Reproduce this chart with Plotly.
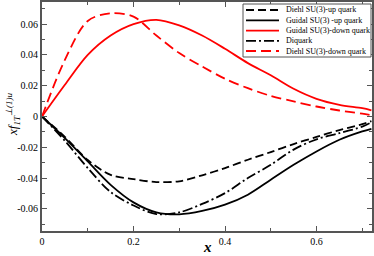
import plotly.graph_objects as go

x_vals = [0, 0.05, 0.1, 0.15, 0.2, 0.25, 0.3, 0.35, 0.4, 0.45, 0.5, 0.55, 0.6, 0.65, 0.7, 0.72]

diehl_up    = [0, -0.0132, -0.0283, -0.0379, -0.0407, -0.0426, -0.0421, -0.0382, -0.0335, -0.0281, -0.0231, -0.0179, -0.0133, -0.0088, -0.0050, -0.0030]
guidal_up   = [0, -0.0140, -0.0292, -0.0444, -0.0558, -0.0623, -0.0636, -0.0614, -0.0573, -0.0508, -0.0411, -0.0314, -0.0227, -0.0151, -0.0097, -0.0080]
guidal_down = [0, 0.0206, 0.0400, 0.0526, 0.0600, 0.0628, 0.0592, 0.0526, 0.0440, 0.0347, 0.0268, 0.0180, 0.0115, 0.0076, 0.0054, 0.0040]
diquark     = [0, -0.0158, -0.0335, -0.0491, -0.0578, -0.0634, -0.0623, -0.0568, -0.0498, -0.0400, -0.0314, -0.0215, -0.0148, -0.0108, -0.0066, -0.0038]
diehl_down  = [0, 0.0368, 0.0621, 0.0671, 0.0649, 0.0526, 0.0412, 0.0325, 0.0245, 0.0184, 0.0134, 0.0098, 0.0065, 0.0039, 0.0018, 0.0008]

x_ticks = [0, 0.2, 0.4, 0.6]
x_tick_labels = ["0", "0.2", "0.4", "0.6"]
y_ticks = [-0.06, -0.04, -0.02, 0, 0.02, 0.04, 0.06]
y_tick_labels = ["-0.06", "-0.04", "-0.02", "0", "0.02", "0.04", "0.06"]

series_names = ["Diehl SU(3)-up quark", "Guidal SU(3) -up quark", "Guidal SU(3)-down quark",
                "Diquark", "Diehl SU(3)-down quark"]
series_values = [diehl_up, guidal_up, guidal_down, diquark, diehl_down]
series_colors = ["black", "black", "red", "black", "red"]
series_dashes = ["8px,4px", "solid", "solid", "10px,3px,2px,3px", "10px,5px"]

W, H = 374, 256
L, R, T, B = 42, 2, 2, 25
PW, PH = W - L - R, H - T - B
SERIF = "Liberation Serif"


def px_x(p):
    return (p - L) / PW


def px_y(p):
    return (H - B - p) / PH


fig = go.Figure()
for name, ys, col, dash in zip(series_names, series_values, series_colors, series_dashes):
    fig.add_trace(go.Scatter(
        x=x_vals, y=ys, mode="lines", name=name, showlegend=False, hoverinfo="skip",
        line=dict(color=col, width=1.8, dash=dash, shape="spline", smoothing=0.9),
    ))

axis_common = dict(
    showline=True, linecolor="#555555", linewidth=2, mirror="ticks",
    ticks="inside", ticklen=5, tickwidth=1, tickcolor="#555555",
    showgrid=False, zeroline=False, automargin=False,
    tickfont=dict(family=SERIF, size=10, color="black"),
)

fig.update_xaxes(
    range=[0, 0.7213], tickvals=x_ticks, ticktext=x_tick_labels,
    minor=dict(ticks="inside", ticklen=3, dtick=0.1, tick0=0, tickcolor="#555555", showgrid=False),
    **axis_common,
)
fig.update_yaxes(
    range=[-0.0744, 0.0744], tickvals=y_ticks, ticktext=y_tick_labels,
    minor=dict(ticks="inside", ticklen=3, dtick=0.01, tick0=0, tickcolor="#555555", showgrid=False),
    **axis_common,
)

shapes = []
annotations = []

# legend box
shapes.append(dict(type="rect", xref="paper", yref="paper",
                   x0=px_x(243), x1=px_x(371), y0=px_y(57), y1=px_y(4),
                   line=dict(color="#555555", width=1), fillcolor="white", layer="above"))
row_y = [10, 20.3, 30.6, 40.8, 51]
for i, (name, col, dash) in enumerate(zip(series_names, series_colors, series_dashes)):
    yy = px_y(row_y[i])
    shapes.append(dict(type="line", xref="paper", yref="paper",
                       x0=px_x(246), x1=px_x(279), y0=yy, y1=yy,
                       line=dict(color=col, width=1.8, dash=dash), layer="above"))
    annotations.append(dict(xref="paper", yref="paper", x=px_x(284), y=yy,
                            xanchor="left", yanchor="middle", showarrow=False,
                            text=name, font=dict(family=SERIF, size=8, color="black")))

# axis titles
annotations.append(dict(xref="paper", yref="paper", x=px_x(207), y=px_y(247),
                        xanchor="center", yanchor="middle", showarrow=False,
                        text="<b><i>x</i></b>", font=dict(family=SERIF, size=15, color="black")))
annotations.append(dict(xref="paper", yref="paper", x=px_x(13), y=px_y(114),
                        xanchor="center", yanchor="middle", showarrow=False, textangle=-90,
                        text="<i>xf<sub>1T</sub><sup>⊥(1)u</sup></i>",
                        font=dict(family=SERIF, size=13, color="black")))

fig.update_layout(
    width=W, height=H,
    margin=dict(l=L, r=R, t=T, b=B),
    plot_bgcolor="white", paper_bgcolor="white",
    showlegend=False, hovermode=False,
    shapes=shapes, annotations=annotations,
)

fig.write_html("out.html", config={"displayModeBar": False},
               post_script="document.body.style.margin='0';document.body.style.overflow='hidden';")
